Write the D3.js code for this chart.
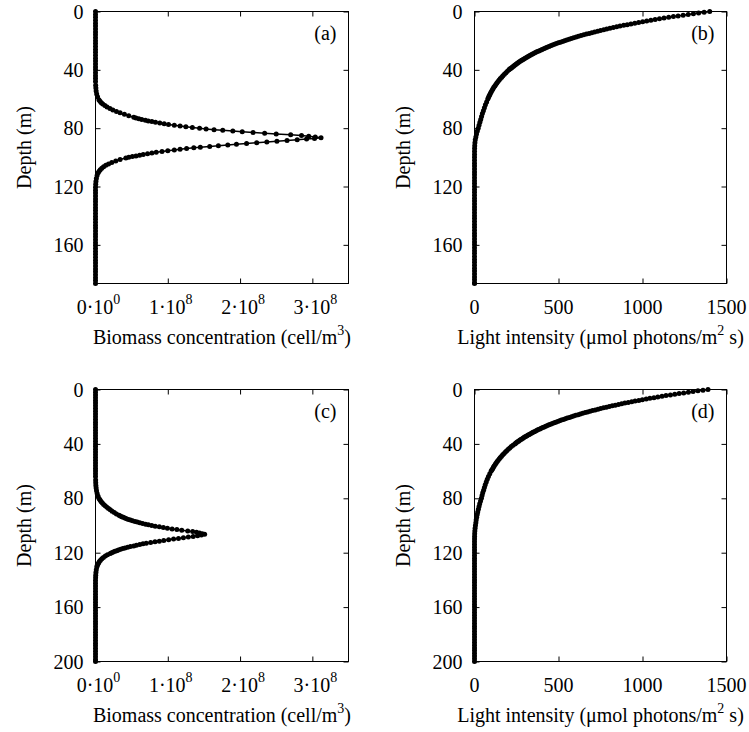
<!DOCTYPE html>
<html><head><meta charset="utf-8">
<script src="https://cdn.jsdelivr.net/npm/d3@7"></script>
</head><body style="margin:0">
<svg id="fig" width="749" height="732"></svg>
<script>
// ---------- DATA ----------
// Panel (a): biomass (units of 1e8 cell/m^3) vs depth (m)
const depthA = [0,2,4,6,8,10,12,14,16,18,20,22,24,26,28,30,32,34,36,38,40,42,44,46,48,
 50.5,52.5,54.5,56.5,58.5,60.5,61.5,62.5,63.5,64.5,65.5,66.5,67.5,68.5,69.5,70.5,71.5,72.5,
 73,73.5,74,74.5,75,75.5,76,76.5,77,77.5,78,78.5,79,79.5,80,80.5,81,81.5,82,82.5,83,83.5,84,84.5,85,85.5,86,86.5,
 87,87.5,88,88.5,89,89.5,90,90.5,91,91.5,92,92.5,93,93.5,94,94.5,95,95.5,96,96.5,97,97.5,98,98.5,99,99.5,100,100.5,
 101.5,102.5,103.5,104.5,105.5,106.5,107.5,108.5,109.5,110.5,112.5,114.5,116.5,118.5,
 120.5,122.5,124.5,126.5,128.5,130.5,132.5,134.5,136.5,138.5,140.5,142.5,144.5,146.5,148.5,150.5,152.5,154.5,156.5,158.5,160.5,162.5,164.5,166.5,168.5,170.5,172.5,174.5,176.5,178.5,180.5,182.5,184.5,186.5];
const biomassA = [0,0,0,0,0,0,0,0,0,0,0,0,0,0,0,0,0,0,0,0,0,0,0,0,0,
 0.0025,0.005,0.009,0.016,0.028,0.047,0.062,0.08,0.10,0.13,0.16,0.20,0.24,0.29,0.34,0.40,0.46,0.53,
 0.56,0.60,0.64,0.69,0.73,0.78,0.83,0.89,0.95,1.01,1.09,1.17,1.25,1.34,1.44,1.53,1.64,1.76,1.90,2.03,2.18,2.34,2.50,2.70,2.85,2.95,3.04,3.12,
 3.03,2.92,2.79,2.65,2.51,2.37,2.23,2.09,1.95,1.83,1.70,1.58,1.45,1.36,1.26,1.17,1.09,1.00,0.92,0.84,0.78,0.72,0.66,0.61,0.56,0.51,0.46,0.42,
 0.34,0.28,0.225,0.18,0.143,0.112,0.087,0.066,0.05,0.037,0.022,0.012,0.006,0.003,
 0,0,0,0,0,0,0,0,0,0,0,0,0,0,0,0,0,0,0,0,0,0,0,0,0,0,0,0,0,0,0,0,0,0];

// Panel (b): light intensity (umol photons/m^2 s) vs depth (m)
const depthB = [0,0.5,1,1.5,2,2.5,3,3.5,4,4.5,5,5.5,6,6.5,7,7.5,8,8.5,9,9.5,10,10.5,11,11.5,12,12.5,13,13.5,14,14.5,
 15,15.5,16,16.5,17,17.5,18,18.5,19,19.5,20,20.5,21,21.5,22,22.5,23,23.5,24,24.5,25,25.5,26,26.5,27,27.5,
 28,28.5,29,29.5,30,30.5,31,31.5,32,32.5,33,33.5,34,34.5,35,35.5,36,36.5,37,37.5,38,38.5,39,39.5,40,
 41,42,43,44,45,46,47,48,49,50,51,52,53,54,55,56,57,58,59,60,
 62,64,66,68,70,72,74,76,78,80,82,84,86,88,90,92,94,96,98,
 100,102,104,106,108,110,112,114,116,118,120,122,124,126,128,130,132,134,136,138,140,142,144,146,148,150,152,154,156,158,160,162,164,166,168,170,172,174,176,178,180,182,184,186,186.5];
const lightB = [1400,1367,1334,1303,1272,1242,1212,1184,1156,1128,1101,1075,1050,1025,1001,977,954,931,909,888,866,846,826,806,787,769,750,733,715,698,
 682,666,650,634,619,605,590,576,563,549,536,524,511,499,487,476,464,453,443,432,422,412,402,393,383,374,
 365,357,348,340,332,324,316,309,301,294,287,281,274,267,261,255,249,243,237,232,226,221,215,210,205,
 196,187,178,169,162,154,147,140,133,127,121,115,110,105,100,95,91,87,83,79,
 72,65,59,53,47,42,37,32,27,22,17,12,8,4.5,2.5,1.2,0.5,0.2,0.1,
 0,0,0,0,0,0,0,0,0,0,0,0,0,0,0,0,0,0,0,0,0,0,0,0,0,0,0,0,0,0,0,0,0,0,0,0,0,0,0,0,0,0,0,0,0];

// Panel (c): biomass (units of 1e8 cell/m^3) vs depth (m)
const depthC = [0,2,4,6,8,10,12,14,16,18,20,22,24,26,28,30,32,34,36,38,40,42,44,46,48,50,52,54,56,58,60,62,64,
 66.5,68.5,70.5,72.5,74.5,76.5,78.5,80.5,81.5,82.5,83.5,84.5,85.5,86.5,87.5,88.5,89.5,90.5,91.5,92.5,
 93,93.5,94,94.5,95,95.5,96,96.5,97,97.5,98,98.5,99,99.5,100,100.5,101,101.5,102,102.5,103,103.5,104,104.5,105,105.5,106,106.5,
 107,107.5,108,108.5,109,109.5,110,110.5,111,111.5,112,112.5,113,113.5,114,114.5,115,115.5,116,116.5,117,117.5,118,118.5,119,119.5,120,120.5,
 121.5,122.5,123.5,124.5,125.5,126.5,127.5,128.5,129.5,130.5,132.5,134.5,136.5,138.5,
 140.5,142.5,144.5,146.5,148.5,150.5,152.5,154.5,156.5,158.5,160.5,162.5,164.5,166.5,168.5,170.5,172.5,174.5,176.5,178.5,180.5,182.5,184.5,186.5,188.5,190.5,192.5,194.5,196.5,198.5,200];
const biomassC = [0,0,0,0,0,0,0,0,0,0,0,0,0,0,0,0,0,0,0,0,0,0,0,0,0,0,0,0,0,0,0,0,0,
 0.002,0.003,0.005,0.009,0.014,0.023,0.036,0.054,0.065,0.079,0.095,0.113,0.134,0.157,0.180,0.204,0.230,0.260,0.290,0.325,
 0.344,0.364,0.384,0.406,0.430,0.456,0.483,0.513,0.547,0.578,0.613,0.652,0.693,0.732,0.778,0.826,0.883,0.939,0.995,1.060,1.126,1.193,1.276,1.344,1.398,1.439,1.477,1.51,
 1.465,1.412,1.351,1.284,1.216,1.148,1.080,1.012,0.944,0.883,0.823,0.763,0.702,0.657,0.612,0.566,0.529,0.483,0.445,0.408,0.378,0.347,0.317,0.294,0.269,0.246,0.223,0.204,
 0.166,0.136,0.109,0.088,0.069,0.054,0.042,0.032,0.024,0.018,0.011,0.006,0.003,0.0015,
 0,0,0,0,0,0,0,0,0,0,0,0,0,0,0,0,0,0,0,0,0,0,0,0,0,0,0,0,0,0,0];

// Panel (d): light intensity vs depth (m)
const depthD = [0,0.5,1,1.5,2,2.5,3,3.5,4,4.5,5,5.5,6,6.5,7,7.5,8,8.5,9,9.5,10,10.5,11,11.5,12,12.5,13,13.5,14,14.5,
 15,15.5,16,16.5,17,17.5,18,18.5,19,19.5,20,20.5,21,21.5,22,22.5,23,23.5,24,24.5,25,25.5,26,26.5,27,27.5,
 28,28.5,29,29.5,30,30.5,31,31.5,32,32.5,33,33.5,34,34.5,35,35.5,36,36.5,37,37.5,38,38.5,39,39.5,40,
 41,42,43,44,45,46,47,48,49,50,51,52,53,54,55,56,57,58,59,60,
 62,64,66,68,70,72,74,76,78,80,
 82,84,86,88,90,92,94,96,98,100,102,104,106,108,110,
 112,114,116,118,120,122,124,126,128,130,132,134,136,138,140,142,144,146,148,150,152,154,156,158,160,162,164,166,168,170,172,174,176,178,180,182,184,186,188,190,192,194,196,198,200];
const lightD = [1390,1360,1330,1301,1273,1245,1218,1192,1166,1140,1116,1091,1068,1044,1022,999,978,956,936,915,895,876,857,838,820,802,785,768,751,735,
 719,703,688,673,659,644,630,617,603,590,577,565,552,540,529,517,506,495,484,474,463,453,443,434,424,415,
 406,397,389,380,372,364,356,348,341,333,326,319,312,305,298,292,286,279,273,267,262,256,250,245,240,
 229,219,210,201,192,184,176,168,161,154,148,141,135,129,124,118,113,109,104,99,
 91,83,76,70,64,59,54,49,45,41,
 36,31,27,23,19,16,13,10,8,5.5,3.5,2,1,0.5,0.2,
 0,0,0,0,0,0,0,0,0,0,0,0,0,0,0,0,0,0,0,0,0,0,0,0,0,0,0,0,0,0,0,0,0,0,0,0,0,0,0,0,0,0,0,0,0];

// Axes / ticks
const biomassDomain = [0, 3.5];
const biomassTicks = [0, 1, 2, 3];
const biomassTickMant = ["0", "1", "2", "3"];
const biomassTickExp = ["0", "8", "8", "8"];
const lightDomain = [0, 1500];
const lightTicks = [0, 500, 1000, 1500];
const lightTickLabels = ["0", "500", "1000", "1500"];
const depthDomainTop = [0, 186.5];
const depthDomainBottom = [0, 200];
const depthTicksTop = [0, 40, 80, 120, 160];
const depthTicksBottom = [0, 40, 80, 120, 160, 200];
const panelLabels = ["(a)", "(b)", "(c)", "(d)"];

// ---------- DRAWING ----------
const FAM = "'Liberation Serif'";
const svg = d3.select("#fig");
const FS = 20;

function txt(xp, yp, s, anchor) {
  return svg.append("text").attr("x", xp).attr("y", yp).attr("font-size", FS)
    .style("font-family", FAM).attr("text-anchor", anchor || "middle").text(s);
}

function tickOnly(sel) {
  sel.select(".domain").remove();
  sel.selectAll(".tick text").remove();
  sel.selectAll(".tick line").attr("stroke", "#000").attr("stroke-width", 1);
}

const marks = svg.append("g");
function panel(o) {
  const x = d3.scaleLinear().domain(o.xDomain).range([o.left, o.right]);
  const y = d3.scaleLinear().domain(o.yDomain).range([o.top, o.bottom]);
  const g = marks.append("g");

  g.append("g").attr("transform", `translate(${o.left},0)`)
    .call(d3.axisLeft(y).tickValues(o.yTicks).tickSizeInner(-5).tickSizeOuter(0)).call(tickOnly);
  g.append("g").attr("transform", `translate(${o.right},0)`)
    .call(d3.axisRight(y).tickValues(o.yTicks).tickSizeInner(-5).tickSizeOuter(0)).call(tickOnly);
  g.append("g").attr("transform", `translate(0,${o.bottom})`)
    .call(d3.axisBottom(x).tickValues(o.xTicks).tickSizeInner(-5).tickSizeOuter(0)).call(tickOnly);
  g.append("g").attr("transform", `translate(0,${o.top})`)
    .call(d3.axisTop(x).tickValues(o.xTicks).tickSizeInner(-5).tickSizeOuter(0)).call(tickOnly);

  g.append("rect").attr("x", o.left).attr("y", o.top)
    .attr("width", o.right - o.left).attr("height", o.bottom - o.top)
    .attr("fill", "none").attr("stroke", "#000").attr("stroke-width", 1);

  const pts = o.depth.map((dv, i) => [o.values[i], dv]);
  g.append("path").datum(pts)
    .attr("fill", "none").attr("stroke", "#000").attr("stroke-width", 1.5)
    .attr("d", d3.line().x(p => x(p[0])).y(p => y(p[1])));
  g.append("g").selectAll("circle").data(pts).join("circle")
    .attr("cx", p => x(p[0])).attr("cy", p => y(p[1])).attr("r", 2.5).attr("fill", "#000");

  o.yTicks.forEach(v => txt(o.left - 12, y(v) + 7, String(v), "end"));
  o.xTicks.forEach((v, i) => {
    if (o.sci) {
      const t = txt(x(v) + 3, o.bottom + 30, "", "middle");
      t.append("tspan").text(biomassTickMant[i] + "\u00B710");
      t.append("tspan").attr("dy", -10).attr("font-size", 14).text(biomassTickExp[i]);
    } else {
      txt(x(v), o.bottom + 30, lightTickLabels[i], "middle");
    }
  });

  txt(o.right - 12, o.top + 28, o.label, "end");

  txt(0, 0, "Depth (m)", "middle")
    .attr("transform", `translate(${o.left - 65},${(o.top + o.bottom) / 2}) rotate(-90)`);

  const xt = txt((o.left + o.right) / 2, o.bottom + 60, "", "middle");
  xt.append("tspan").text(o.xTitle[0]);
  xt.append("tspan").attr("dy", -9).attr("font-size", 14).text(o.xTitle[1]);
  xt.append("tspan").attr("dy", 9).text(o.xTitle[2]);
}

const biomassTitle = ["Biomass concentration (cell/m", "3", ")"];
const lightTitle = ["Light intensity (\u03BCmol photons/m", "2", " s)"];

panel({left: 95.5, right: 348.5, top: 11.5, bottom: 283.5, xDomain: biomassDomain, xTicks: biomassTicks, sci: true,
  yDomain: depthDomainTop, yTicks: depthTicksTop, depth: depthA, values: biomassA, label: panelLabels[0], xTitle: biomassTitle});
panel({left: 474.5, right: 726.5, top: 11.5, bottom: 283.5, xDomain: lightDomain, xTicks: lightTicks, sci: false,
  yDomain: depthDomainTop, yTicks: depthTicksTop, depth: depthB, values: lightB, label: panelLabels[1], xTitle: lightTitle});
panel({left: 95.5, right: 348.5, top: 389.5, bottom: 661.5, xDomain: biomassDomain, xTicks: biomassTicks, sci: true,
  yDomain: depthDomainBottom, yTicks: depthTicksBottom, depth: depthC, values: biomassC, label: panelLabels[2], xTitle: biomassTitle});
panel({left: 474.5, right: 726.5, top: 389.5, bottom: 661.5, xDomain: lightDomain, xTicks: lightTicks, sci: false,
  yDomain: depthDomainBottom, yTicks: depthTicksBottom, depth: depthD, values: lightD, label: panelLabels[3], xTitle: lightTitle});
</script>
</body></html>
